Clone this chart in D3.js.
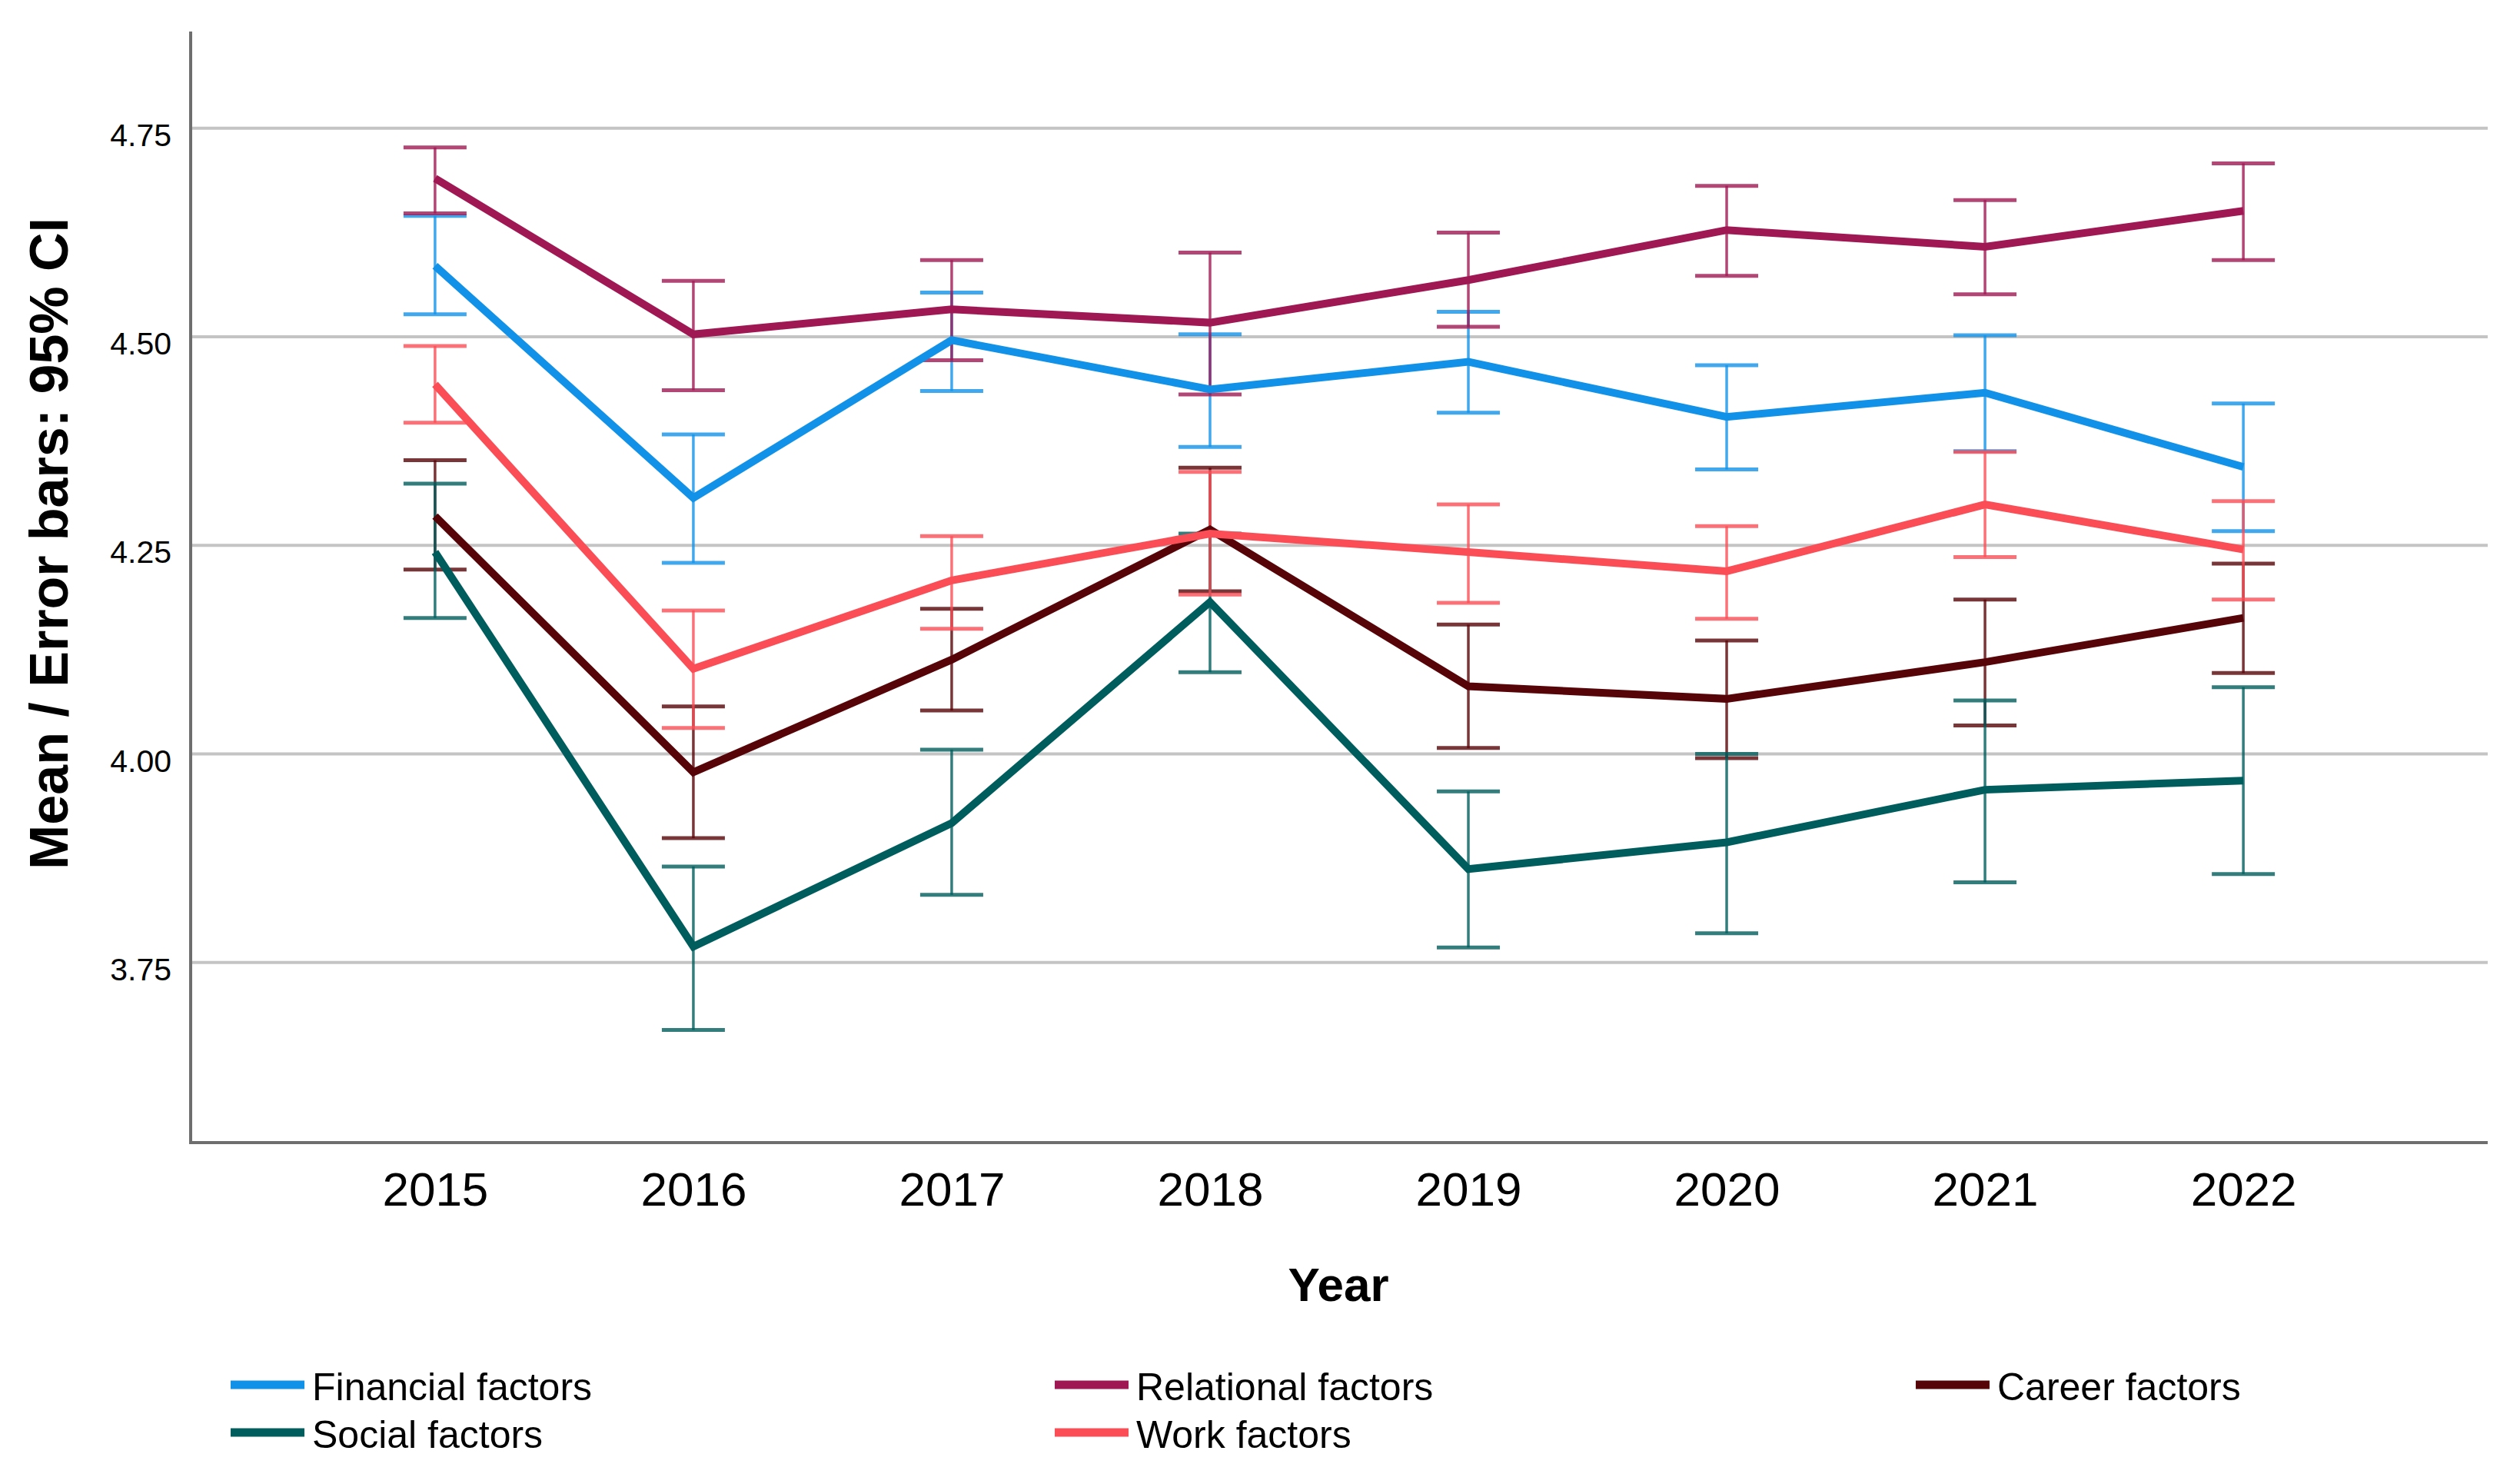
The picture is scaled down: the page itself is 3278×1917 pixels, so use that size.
<!DOCTYPE html>
<html>
<head>
<meta charset="utf-8">
<script src="https://cdn.jsdelivr.net/npm/d3@7"></script>
<style>
  html, body { margin: 0; padding: 0; background: #fff; }
  svg { display: block; }
  text { font-family: "Liberation Sans", Arial, sans-serif; fill: #000; }
</style>
</head>
<body>
<script>
// ---------- data ----------
const years = ["2015", "2016", "2017", "2018", "2019", "2020", "2021", "2022"];
const seriesNames = ["Financial factors", "Relational factors", "Career factors", "Social factors", "Work factors"];
const seriesColors = ["#1192e8", "#9f1853", "#570408", "#005d5d", "#fa4d56"];

const financialMean = [4.585, 4.307, 4.496, 4.437, 4.470, 4.404, 4.433, 4.344];
const financialLow  = [4.527, 4.229, 4.435, 4.368, 4.409, 4.341, 4.363, 4.267];
const financialHigh = [4.645, 4.383, 4.553, 4.503, 4.530, 4.466, 4.502, 4.420];

const relationalMean = [4.690, 4.503, 4.533, 4.517, 4.568, 4.628, 4.608, 4.651];
const relationalLow  = [4.648, 4.436, 4.472, 4.431, 4.512, 4.573, 4.551, 4.592];
const relationalHigh = [4.727, 4.567, 4.592, 4.601, 4.625, 4.681, 4.664, 4.708];

const careerMean = [4.285, 3.978, 4.113, 4.269, 4.081, 4.066, 4.110, 4.163];
const careerLow  = [4.221, 3.899, 4.052, 4.195, 4.007, 3.995, 4.034, 4.097];
const careerHigh = [4.352, 4.057, 4.174, 4.343, 4.155, 4.136, 4.185, 4.228];

const socialMean = [4.242, 3.769, 3.917, 4.182, 3.862, 3.894, 3.957, 3.968];
const socialLow  = [4.163, 3.669, 3.831, 4.098, 3.768, 3.785, 3.846, 3.856];
const socialHigh = [4.324, 3.865, 4.005, 4.264, 3.955, 4.000, 4.064, 4.080];

const workMean = [4.443, 4.102, 4.208, 4.264, 4.242, 4.219, 4.299, 4.245];
const workLow  = [4.397, 4.031, 4.150, 4.191, 4.181, 4.162, 4.236, 4.185];
const workHigh = [4.489, 4.172, 4.261, 4.338, 4.299, 4.273, 4.362, 4.303];

const yTicks = [3.75, 4.00, 4.25, 4.50, 4.75];
const yDomain = [3.534, 4.866];
const xTitle = "Year";
const yTitle = "Mean / Error bars: 95% CI";

const series = [
  {name: seriesNames[0], color: seriesColors[0], mean: financialMean, low: financialLow, high: financialHigh},
  {name: seriesNames[1], color: seriesColors[1], mean: relationalMean, low: relationalLow, high: relationalHigh},
  {name: seriesNames[2], color: seriesColors[2], mean: careerMean, low: careerLow, high: careerHigh},
  {name: seriesNames[3], color: seriesColors[3], mean: socialMean, low: socialLow, high: socialHigh},
  {name: seriesNames[4], color: seriesColors[4], mean: workMean, low: workLow, high: workHigh}
];

// ---------- layout ----------
const W = 3278, H = 1917;
const plot = {left: 248, right: 3236, top: 41, bottom: 1486};

const svg = d3.select("body").append("svg").attr("width", W).attr("height", H);

const x = d3.scalePoint().domain(years).range([plot.left, plot.right]).padding(0.946);
const y = d3.scaleLinear().domain(yDomain).range([plot.bottom, plot.top]);

// gridlines
svg.append("g").selectAll("line").data(yTicks).join("line")
  .attr("x1", plot.left).attr("x2", plot.right)
  .attr("y1", d => y(d)).attr("y2", d => y(d))
  .attr("stroke", "#c4c4c4").attr("stroke-width", 4);

// y axis (labels only, no tick marks)
const yAxis = d3.axisLeft(y).tickValues(yTicks).tickFormat(d3.format(".2f")).tickSize(0).tickPadding(25);
const gy = svg.append("g").attr("transform", `translate(${plot.left},0)`).call(yAxis);
gy.select(".domain").remove();
gy.selectAll("text").attr("font-size", 41).attr("dy", "0.55em")
  .attr("font-family", "'Liberation Sans', Arial, sans-serif").attr("fill", "#000");

// x axis
const xAxis = d3.axisBottom(x).tickSize(0).tickPadding(0);
const gx = svg.append("g").attr("transform", `translate(0,${plot.bottom})`).call(xAxis);
gx.select(".domain").remove();
gx.selectAll("text").attr("font-size", 62).attr("dy", 0).attr("y", 82)
  .attr("font-family", "'Liberation Sans', Arial, sans-serif").attr("fill", "#000");

// axis lines
svg.append("line").attr("x1", plot.left).attr("x2", plot.left)
  .attr("y1", plot.top).attr("y2", plot.bottom + 2)
  .attr("stroke", "#6e6e6e").attr("stroke-width", 4);
svg.append("line").attr("x1", plot.left - 2).attr("x2", plot.right)
  .attr("y1", plot.bottom).attr("y2", plot.bottom)
  .attr("stroke", "#6e6e6e").attr("stroke-width", 4);

// error bars
const capHalf = 41;
series.forEach(s => {
  const g = svg.append("g").attr("stroke", s.color).attr("stroke-opacity", 0.8);
  years.forEach((yr, i) => {
    const cx = x(yr);
    g.append("line").attr("x1", cx).attr("x2", cx)
      .attr("y1", y(s.low[i])).attr("y2", y(s.high[i])).attr("stroke-width", 3.5);
    g.append("line").attr("x1", cx - capHalf).attr("x2", cx + capHalf)
      .attr("y1", y(s.high[i])).attr("y2", y(s.high[i])).attr("stroke-width", 5);
    g.append("line").attr("x1", cx - capHalf).attr("x2", cx + capHalf)
      .attr("y1", y(s.low[i])).attr("y2", y(s.low[i])).attr("stroke-width", 5);
  });
});

// mean lines
const line = d3.line().x((d, i) => x(years[i])).y(d => y(d));
series.forEach(s => {
  svg.append("path").datum(s.mean).attr("d", line)
    .attr("fill", "none").attr("stroke", s.color).attr("stroke-width", 10)
    .attr("stroke-linejoin", "miter");
});

// axis titles
svg.append("text").attr("x", 1741).attr("y", 1692).attr("text-anchor", "middle")
  .attr("font-size", 62).attr("font-weight", "bold").text(xTitle);
svg.append("text").attr("transform", "translate(88,707) rotate(-90)").attr("text-anchor", "middle")
  .attr("font-size", 70).attr("font-weight", "bold").text(yTitle);

// legend
const legendPos = [
  {x: 300, y: 1801}, {x: 1372, y: 1801}, {x: 2492, y: 1801},
  {x: 300, y: 1863}, {x: 1372, y: 1863}
];
series.forEach((s, i) => {
  const p = legendPos[i];
  svg.append("line").attr("x1", p.x).attr("x2", p.x + 96)
    .attr("y1", p.y).attr("y2", p.y)
    .attr("stroke", s.color).attr("stroke-width", 11);
  svg.append("text").attr("x", p.x + 106).attr("y", p.y + 20)
    .attr("font-size", 50).text(s.name);
});
</script>
</body>
</html>
